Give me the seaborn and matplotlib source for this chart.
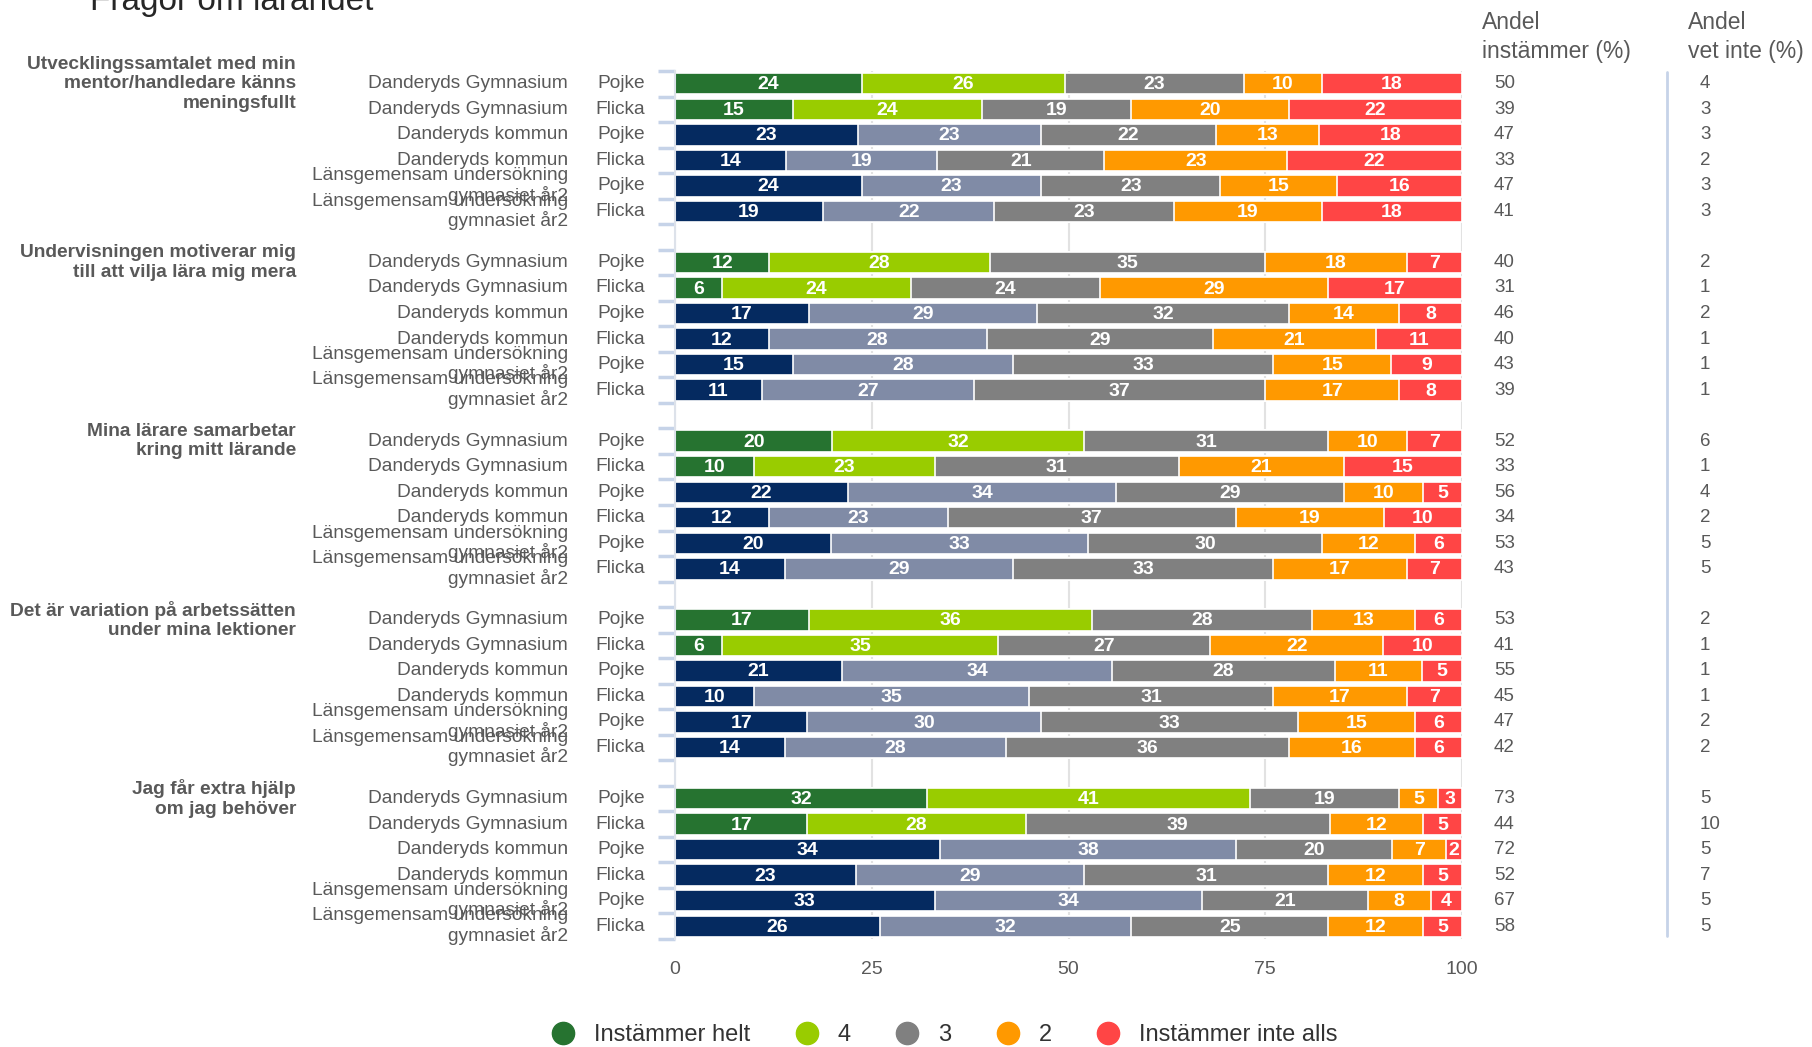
import numpy as np
import pandas as pd
import matplotlib.pyplot as plt
import matplotlib.transforms as mtransforms
from matplotlib.lines import Line2D
from matplotlib import font_manager
import seaborn as sns

# ── Data ──────────────────────────────────────────────────────────
QUESTIONS = [
    "Utvecklingssamtalet med min\nmentor/handledare känns\nmeningsfullt",
    "Undervisningen motiverar mig\ntill att vilja lära mig mera",
    "Mina lärare samarbetar\nkring mitt lärande",
    "Det är variation på arbetssätten\nunder mina lektioner",
    "Jag får extra hjälp\nom jag behöver",
]
SCHOOLS = ["Danderyds Gymnasium", "Danderyds Gymnasium",
           "Danderyds kommun", "Danderyds kommun",
           "Länsgemensam undersökning\ngymnasiet år2",
           "Länsgemensam undersökning\ngymnasiet år2"]
GENDERS = ["Pojke", "Flicka", "Pojke", "Flicka", "Pojke", "Flicka"]
KINDS = ["gym", "gym", "other", "other", "other", "other"]

LEVELS = ["Instämmer helt", "4", "3", "2", "Instämmer inte alls"]

helt = [24, 15, 23, 14, 24, 19, 12, 6, 17, 12, 15, 11, 20, 10, 22, 12, 20, 14,
        17, 6, 21, 10, 17, 14, 32, 17, 34, 23, 33, 26]
fyra = [26, 24, 23, 19, 23, 22, 28, 24, 29, 28, 28, 27, 32, 23, 34, 23, 33, 29,
        36, 35, 34, 35, 30, 28, 41, 28, 38, 29, 34, 32]
tre = [23, 19, 22, 21, 23, 23, 35, 24, 32, 29, 33, 37, 31, 31, 29, 37, 30, 33,
       28, 27, 28, 31, 33, 36, 19, 39, 20, 31, 21, 25]
tva = [10, 20, 13, 23, 15, 19, 18, 29, 14, 21, 15, 17, 10, 21, 10, 19, 12, 17,
       13, 22, 11, 17, 15, 16, 5, 12, 7, 12, 8, 12]
ett = [18, 22, 18, 22, 16, 18, 7, 17, 8, 11, 9, 8, 7, 15, 5, 10, 6, 7,
       6, 10, 5, 7, 6, 6, 3, 5, 2, 5, 4, 5]

andel_instammer = [50, 39, 47, 33, 47, 41, 40, 31, 46, 40, 43, 39,
                   52, 33, 56, 34, 53, 43, 53, 41, 55, 45, 47, 42,
                   73, 44, 72, 52, 67, 58]
andel_vet_inte = [4, 3, 3, 2, 3, 3, 2, 1, 2, 1, 1, 1,
                  6, 1, 4, 2, 5, 5, 2, 1, 1, 1, 2, 2,
                  5, 10, 5, 7, 5, 5]

# colours per level: (Gymnasium, others)
COLORS = [("#267330", "#052a60"), ("#99cc00", "#808ba6"),
          ("#808080", "#808080"), ("#ff9900", "#ff9900"),
          ("#ff4545", "#ff4545")]
TEXT_GREY = "#595959"
AXIS_BLUE = "#c6d3e8"

# ── Build table ───────────────────────────────────────────────────
rows, order = [], []
for g in range(len(QUESTIONS)):
    for r in range(6):
        rid = f"q{g}_r{r}"
        order.append(rid)
        rows.append({"row": rid, "group": g, "kind": KINDS[r],
                     "school": SCHOOLS[r], "gender": GENDERS[r]})
    if g < len(QUESTIONS) - 1:
        order.append(f"gap{g}")

df = pd.DataFrame(rows)
vals = np.array([helt, fyra, tre, tva, ett], dtype=float).T
total = vals.sum(axis=1, keepdims=True)
cum = np.cumsum(vals, axis=1) / total * 100  # bars end at 100
for k in range(5):
    df[f"cum{k}"] = cum[:, k]
df["pos"] = [order.index(r) for r in df["row"]]

# ── Figure ────────────────────────────────────────────────────────
sns.set_theme(style="white")
plt.rcParams["font.family"] = ["Liberation Sans", "DejaVu Sans"]

names = {f.name for f in font_manager.fontManager.ttflist}
narrow = "Liberation Sans Narrow" if "Liberation Sans Narrow" in names else "Liberation Sans"

fig = plt.figure(figsize=(18.12, 10.47), dpi=100)
ax = fig.add_axes([675 / 1812, 1 - 939 / 1047, 787 / 1812, 868 / 1047])
ax.set_axisbelow(True)
ax.grid(axis="x", color="#e2e2e2", lw=1.5)

# overlay cumulative bars, last level first
for k in range(4, -1, -1):
    gym_c, oth_c = COLORS[k]
    sns.barplot(data=df, x=f"cum{k}", y="row", hue="kind", order=order,
                hue_order=["gym", "other"], palette={"gym": gym_c, "other": oth_c},
                dodge=False, orient="h", width=0.84, errorbar=None, saturation=1,
                edgecolor="white", linewidth=1.2, legend=False, ax=ax)

# segment labels
for i, rec in df.iterrows():
    left = 0.0
    for k in range(5):
        right = rec[f"cum{k}"]
        ax.text((left + right) / 2, rec["pos"] + 0.04, f"{int(vals[i, k])}",
                ha="center", va="center", color="white", fontsize=14,
                fontweight="bold", family=narrow)
        left = right

ax.set_xlim(0, 100)
ax.set_ylim(len(order) - 0.5, -0.5)
ax.set_xticks([0, 25, 50, 75, 100])
ax.set_yticks(np.arange(-0.5, len(order), 1))
ax.set_yticklabels([])
ax.set_xlabel("")
ax.set_ylabel("")
ax.tick_params(axis="x", length=0, pad=16, labelsize=14, labelcolor=TEXT_GREY)
ax.tick_params(axis="y", length=12, width=2.5, color=AXIS_BLUE, left=True)
for s in ["top", "right", "bottom"]:
    ax.spines[s].set_visible(False)
ax.spines["left"].set_color("#dde2ea")
ax.spines["left"].set_linewidth(1.5)

# ── Row / group labels ────────────────────────────────────────────
tr = mtransforms.blended_transform_factory(fig.transFigure, ax.transData)
W = 1812
for _, rec in df.iterrows():
    y = rec["pos"]
    ax.text(568 / W, y, rec["school"], transform=tr, ha="right", va="center",
            ma="right", fontsize=13.8, color=TEXT_GREY, linespacing=1.1)
    ax.text(645 / W, y, rec["gender"], transform=tr, ha="right", va="center",
            fontsize=13.8, color=TEXT_GREY)
    ax.text(1494 / W, y, f"{andel_instammer[_]}", transform=tr, ha="left",
            va="center", fontsize=13.5, color=TEXT_GREY)
    ax.text(1700 / W, y, f"{andel_vet_inte[_]}", transform=tr, ha="left",
            va="center", fontsize=13.5, color=TEXT_GREY)

for g, q in enumerate(QUESTIONS):
    y = df.loc[df["group"] == g, "pos"].min()
    ax.text(296 / W, y, q, transform=tr, ha="right", va="center", ma="right",
            fontsize=13.8, fontweight="bold", color=TEXT_GREY, linespacing=1.2)

# separator between the two side columns
ax.plot([1667 / W, 1667 / W], [-0.45, len(order) - 0.6], transform=tr,
        color=AXIS_BLUE, lw=2, clip_on=False)

fig.text(1482 / W, 1 - 37 / 1047, "Andel\ninstämmer (%)", ha="left", va="center",
         fontsize=16.5, color=TEXT_GREY, linespacing=1.35)
fig.text(1688 / W, 1 - 37 / 1047, "Andel\nvet inte (%)", ha="left", va="center",
         fontsize=16.5, color=TEXT_GREY, linespacing=1.35)

fig.text(90 / W, 1 - 10 / 1047, "Frågor om lärandet", ha="left", va="baseline",
         fontsize=24, color="#262626")

# ── Legend ────────────────────────────────────────────────────────
handles = [Line2D([0], [0], marker="o", linestyle="", markersize=16,
                  markerfacecolor=c[0], markeredgecolor=c[0]) for c in COLORS]
fig.legend(handles, LEVELS, loc="center", ncol=5, frameon=False,
           bbox_to_anchor=(0.518, 1 - 1035 / 1047), fontsize=17,
           handletextpad=0.3, columnspacing=1.4, labelcolor="#333333")

fig.savefig("out.png", dpi=100)
